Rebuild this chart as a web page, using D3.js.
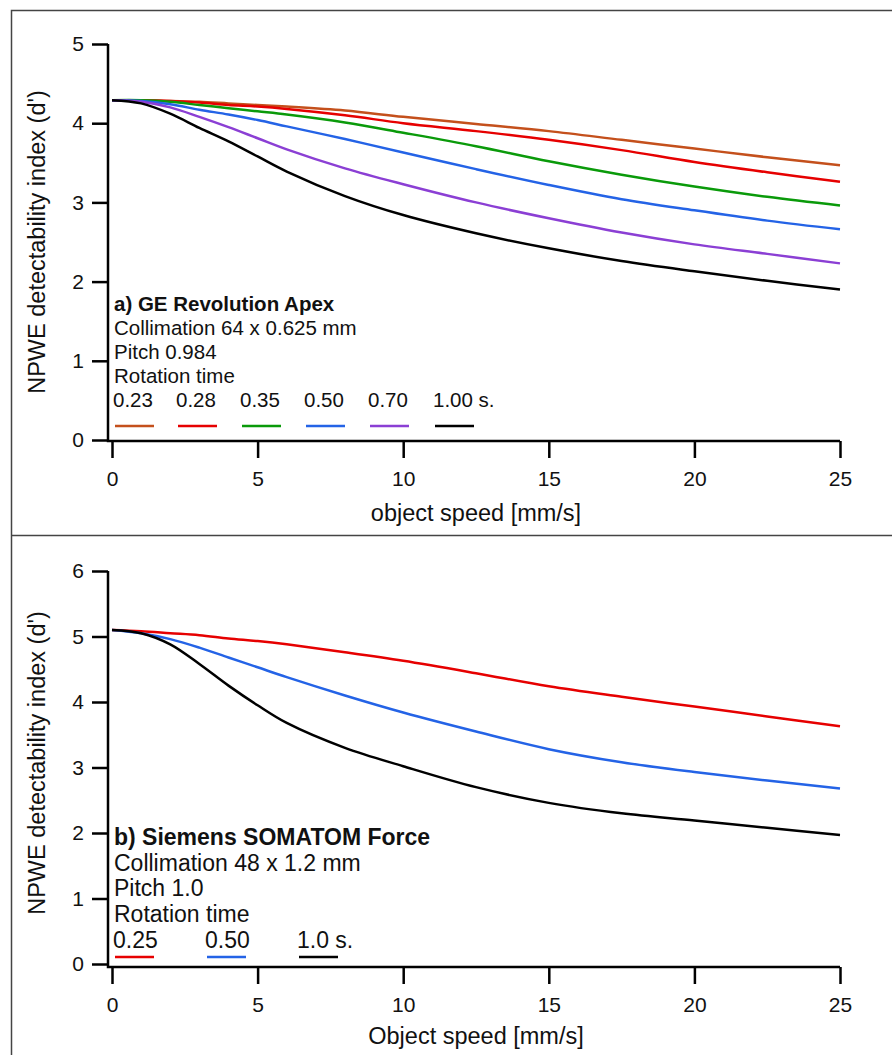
<!DOCTYPE html>
<html>
<head>
<meta charset="utf-8">
<script src="https://cdn.jsdelivr.net/npm/d3@7"></script>
<style>
  body { margin: 0; background: #fff; }
  svg { display: block; font-family: "Liberation Sans", Arial, sans-serif; }
</style>
</head>
<body>
<script>
// object speed [mm/s] where the curves were read
const speeds = [0, 1, 2, 3, 4, 5, 6, 8, 10, 12.5, 15, 17.5, 20, 22.5, 25];

// a) GE Revolution Apex, rotation times
const geTimes = ["0.23", "0.28", "0.35", "0.50", "0.70", "1.00 s."];
const ge023 = [4.29, 4.29, 4.28, 4.27, 4.25, 4.23, 4.21, 4.16, 4.08, 3.99, 3.90, 3.79, 3.68, 3.57, 3.47];
const ge028 = [4.29, 4.29, 4.28, 4.26, 4.23, 4.21, 4.18, 4.10, 4.00, 3.90, 3.79, 3.66, 3.51, 3.38, 3.26];
const ge035 = [4.29, 4.29, 4.27, 4.23, 4.19, 4.15, 4.11, 4.01, 3.88, 3.71, 3.52, 3.35, 3.20, 3.07, 2.96];
const ge050 = [4.29, 4.28, 4.24, 4.17, 4.11, 4.04, 3.96, 3.80, 3.63, 3.42, 3.22, 3.04, 2.90, 2.77, 2.66];
const ge070 = [4.29, 4.27, 4.20, 4.08, 3.95, 3.81, 3.67, 3.43, 3.23, 3.00, 2.80, 2.62, 2.47, 2.35, 2.23];
const ge100 = [4.29, 4.25, 4.12, 3.94, 3.77, 3.58, 3.39, 3.08, 2.84, 2.61, 2.42, 2.26, 2.13, 2.01, 1.90];
const geColors = ["#c4501c", "#e60000", "#0a9a0a", "#2463e6", "#8b3fd4", "#000000"];

// b) Siemens SOMATOM Force, rotation times
const siTimes = ["0.25", "0.50", "1.0 s."];
const si025 = [5.10, 5.08, 5.05, 5.02, 4.97, 4.93, 4.88, 4.76, 4.63, 4.44, 4.24, 4.08, 3.93, 3.78, 3.63];
const si050 = [5.10, 5.05, 4.96, 4.83, 4.68, 4.53, 4.38, 4.10, 3.84, 3.55, 3.28, 3.08, 2.93, 2.80, 2.68];
const si100 = [5.10, 5.05, 4.88, 4.58, 4.25, 3.95, 3.68, 3.30, 3.02, 2.70, 2.46, 2.30, 2.19, 2.08, 1.97];
const siColors = ["#e60000", "#2463e6", "#000000"];

const xTicks = [0, 5, 10, 15, 20, 25];

const svg = d3.select("body").append("svg")
    .attr("width", 892)
    .attr("height", 1055);

// panel frames
svg.append("rect")
    .attr("x", 11.5).attr("y", 10.5)
    .attr("width", 900).attr("height", 1100)
    .attr("fill", "none")
    .attr("stroke", "#444")
    .attr("stroke-width", 1.5);
svg.append("line")
    .attr("x1", 11).attr("x2", 892)
    .attr("y1", 535.5).attr("y2", 535.5)
    .attr("stroke", "#444")
    .attr("stroke-width", 1.5);

function panel(o) {
  const x = d3.scaleLinear().domain([0, 25]).range([112, 840]);
  const y = d3.scaleLinear().domain([0, o.ymax]).range([o.y0, o.ytop]);
  const g = svg.append("g");

  // y axis
  g.append("g")
      .attr("transform", "translate(108,0)")
      .call(d3.axisLeft(y).ticks(o.ymax).tickSize(16).tickSizeOuter(0).tickPadding(8))
      .call(a => a.select(".domain").remove());

  // x axis
  g.append("g")
      .attr("transform", `translate(0,${o.xAxisY})`)
      .call(d3.axisBottom(x).tickValues(xTicks).tickSize(17).tickSizeOuter(0).tickPadding(13))
      .call(a => a.select(".domain").remove());

  g.selectAll(".tick line").attr("stroke", "#000").attr("stroke-width", 2.5);
  g.selectAll(".tick text").attr("fill", "#111").style("font-size", "21px");

  g.append("path")
      .attr("d", `M108,${y(o.ymax)}V${o.xAxisY}H840`)
      .attr("fill", "none")
      .attr("stroke", "#000")
      .attr("stroke-width", 2.5);

  g.append("text")
      .attr("transform", `translate(45,${o.ylabelY}) rotate(-90)`)
      .attr("text-anchor", "middle")
      .style("font-size", "23.5px")
      .attr("fill", "#111")
      .text("NPWE detectability index (d')");

  g.append("text")
      .attr("x", 476)
      .attr("y", o.xlabelY)
      .attr("text-anchor", "middle")
      .style("font-size", "23.5px")
      .attr("fill", "#111")
      .text(o.xlabel);

  const line = d3.line()
      .x((d, i) => x(speeds[i]))
      .y(d => y(d))
      .curve(d3.curveCatmullRom.alpha(0.5));

  g.append("g")
      .attr("fill", "none")
      .attr("stroke-width", 2.5)
    .selectAll("path")
    .data(o.series)
    .join("path")
      .attr("stroke", (d, i) => o.colors[i])
      .attr("d", line);

  // annotation block
  const notes = g.append("g").attr("fill", "#111").style("font-size", o.fontSize);
  o.lines.forEach((t, i) => {
    notes.append("text")
        .attr("x", 114)
        .attr("y", o.textY + i * o.lineStep)
        .style("font-weight", i === 0 ? "bold" : null)
        .text(t);
  });

  const legY = o.textY + o.lines.length * o.lineStep;
  o.times.forEach((t, i) => {
    notes.append("text")
        .attr("x", o.legX[i])
        .attr("y", legY)
        .text(t);
    g.append("line")
        .attr("x1", o.legX[i] + 2).attr("x2", o.legX[i] + 41)
        .attr("y1", o.legLineY).attr("y2", o.legLineY)
        .attr("stroke", o.colors[i])
        .attr("stroke-width", 2.5);
  });
}

panel({
  ymax: 5, y0: 440, ytop: 44, xAxisY: 441,
  ylabelY: 242, xlabelY: 521, xlabel: "object speed [mm/s]",
  series: [ge023, ge028, ge035, ge050, ge070, ge100],
  colors: geColors,
  times: geTimes,
  legX: [113, 176, 240, 304, 368, 433],
  lines: ["a) GE Revolution Apex", "Collimation 64 x 0.625 mm", "Pitch 0.984", "Rotation time"],
  textY: 311, lineStep: 24, legLineY: 426, fontSize: "20.5px"
});

panel({
  ymax: 6, y0: 964, ytop: 571, xAxisY: 967,
  ylabelY: 763, xlabelY: 1044, xlabel: "Object speed [mm/s]",
  series: [si025, si050, si100],
  colors: siColors,
  times: siTimes,
  legX: [113, 205, 297],
  lines: ["b) Siemens SOMATOM Force", "Collimation 48 x 1.2 mm", "Pitch 1.0", "Rotation time"],
  textY: 845, lineStep: 25.7, legLineY: 957, fontSize: "23px"
});
</script>
</body>
</html>
